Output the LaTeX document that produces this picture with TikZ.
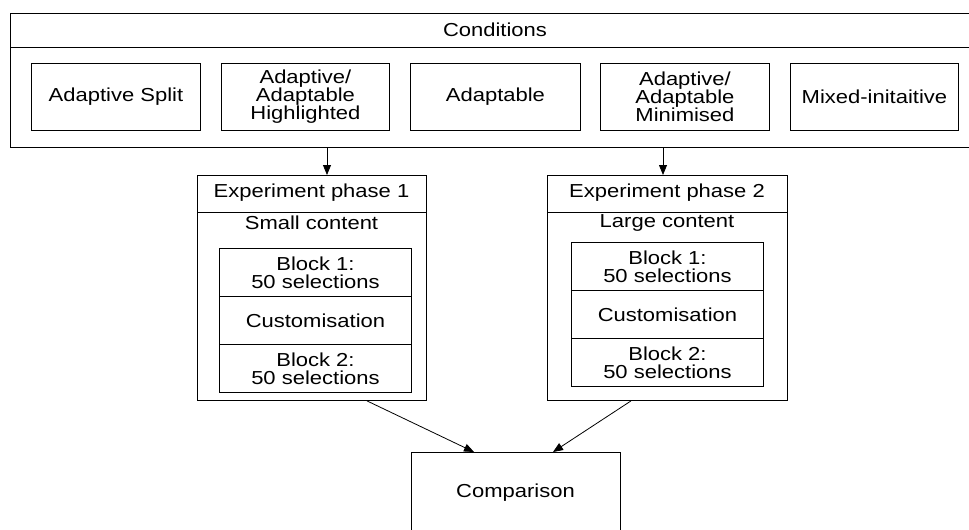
\documentclass[tikz,border=0pt]{standalone}
\usepackage{fontspec}
\setmainfont{Liberation Sans}[FakeStretch=1.17]
\usetikzlibrary{arrows.meta}
\begin{document}
\begin{tikzpicture}[x=1pt,y=-1pt,
  every node/.style={font=\fontsize{18.8}{18}\selectfont, inner sep=0pt, align=center},
  box/.style={draw, line width=0.9pt, rectangle, anchor=north west},
  lbl/.style={anchor=center},
  arr/.style={line width=0.8pt, -{Triangle[length=10pt,width=8pt]}}]
\clip (0,0) rectangle (969,530);
\useasboundingbox (0,0) rectangle (969,530);

% Conditions container (extends past the right edge)
\node[box, minimum width=970, minimum height=134] (cond) at (10,13) {};
\draw[line width=0.9pt] (10,47) -- (980,47);
\node[lbl] (condt) at (495,30) {Conditions};

\node[box, minimum width=169, minimum height=67] (c1) at (31,63) {};
\node[lbl] at (c1.center) {Adaptive Split};
\node[box, minimum width=168, minimum height=67] (c2) at (221,63) {};
\node[lbl] at (c2.center) {Adaptive/\\Adaptable\\Highlighted};
\node[box, minimum width=170, minimum height=67] (c3) at (410,63) {};
\node[lbl] at (c3.center) {Adaptable};
\node[box, minimum width=169, minimum height=67] (c4) at (600,63) {};
\node[lbl] at (c4.center) {Adaptive/\\Adaptable\\Minimised};
\node[box, minimum width=168, minimum height=67] (c5) at (790,63) {};
\node[lbl] at (c5.center) {Mixed-initaitive};

% Experiment phase 1
\node[box, minimum width=229, minimum height=225] (p1) at (197,175) {};
\draw[line width=0.9pt] (197,212) -- (426,212);
\node[lbl] (p1t) at (311.5,193) {Experiment phase 1};
\node[lbl] (p1s) at (311.5,223) {Small content};
\node[box, minimum width=192, minimum height=48] (p1a) at (219,248) {};
\node[lbl] at (p1a.center) {Block 1:\\50 selections};
\node[box, minimum width=192, minimum height=48] (p1b) at (219,296) {};
\node[lbl] at (p1b.center) {Customisation};
\node[box, minimum width=192, minimum height=48] (p1c) at (219,344) {};
\node[lbl] at (p1c.center) {Block 2:\\50 selections};

% Experiment phase 2
\node[box, minimum width=240, minimum height=225] (p2) at (547,175) {};
\draw[line width=0.9pt] (547,212) -- (787,212);
\node[lbl] (p2t) at (667,193) {Experiment phase 2};
\node[lbl] (p2s) at (667,223) {Large content};
\node[box, minimum width=192, minimum height=48] (p2a) at (571,242) {};
\node[lbl] at (p2a.center) {Block 1:\\50 selections};
\node[box, minimum width=192, minimum height=48] (p2b) at (571,290) {};
\node[lbl] at (p2b.center) {Customisation};
\node[box, minimum width=192, minimum height=48] (p2c) at (571,338) {};
\node[lbl] at (p2c.center) {Block 2:\\50 selections};

% Comparison (runs past the bottom edge)
\node[box, minimum width=209, minimum height=95] (cmp) at (411,452) {};
\node[lbl] (cmpt) at (515.5,493) {Comparison};

% connector columns
\coordinate (xa) at (327,0);
\coordinate (xb) at (663,0);
\coordinate (xc) at (367,0);
\coordinate (xd) at (474,0);
\coordinate (xe) at (631,0);
\coordinate (xf) at (553,0);

\draw[arr] (cond.south -| xa) -- (p1.north -| xa);
\draw[arr] (cond.south -| xb) -- (p2.north -| xb);
\draw[arr] (p1.south -| xc) -- (cmp.north -| xd);
\draw[arr] (p2.south -| xe) -- (cmp.north -| xf);
\end{tikzpicture}
\end{document}
